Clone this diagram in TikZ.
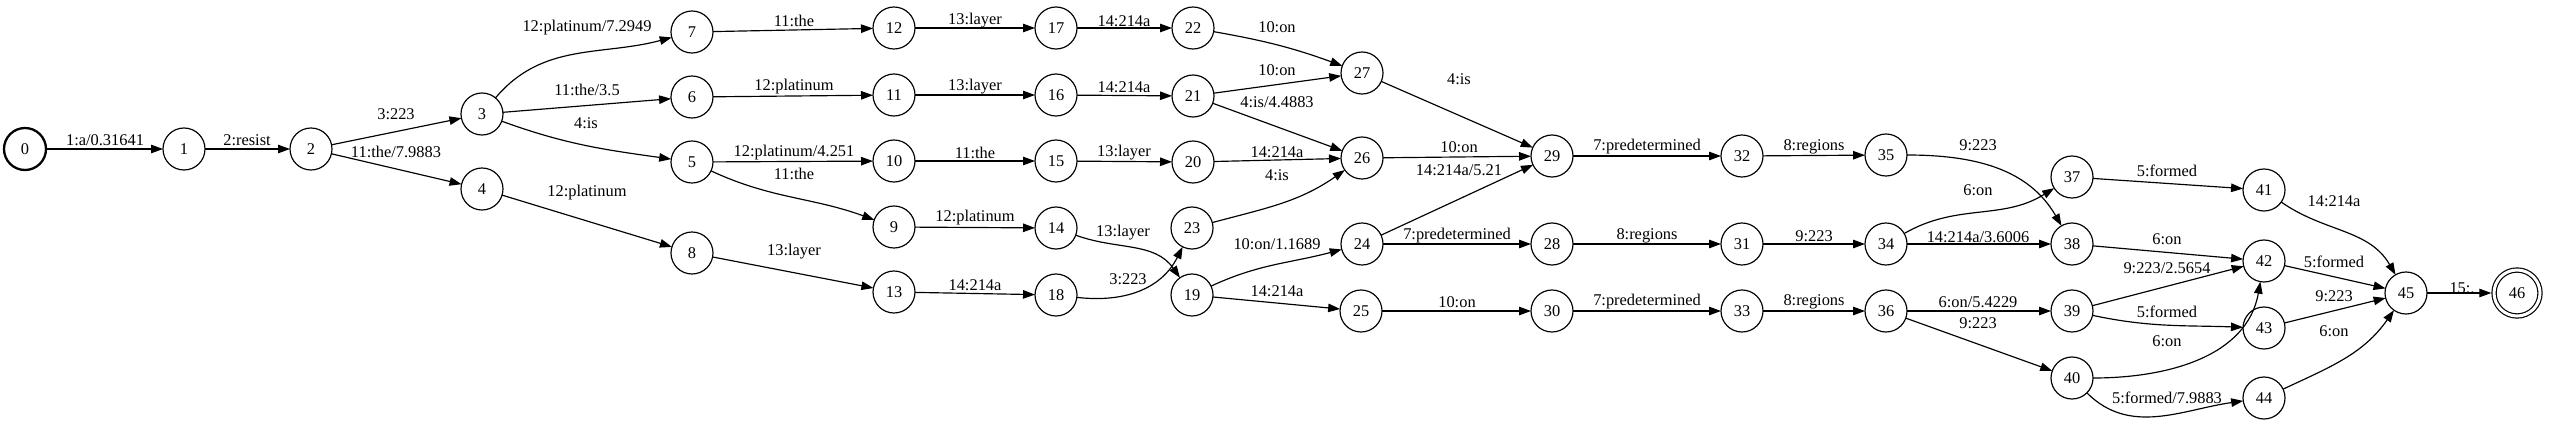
\documentclass[tikz,border=0pt]{standalone}
\usepackage{fontspec}
\setmainfont{Liberation Serif}
\usetikzlibrary{arrows.meta}
\begin{document}
\begin{tikzpicture}[x=1pt,y=1pt,
  st/.style={circle,draw,line width=1.17pt,minimum size=42pt,inner sep=0pt,outer sep=0pt,font=\fontsize{16.4}{19}\selectfont},
  initst/.style={st,line width=2.3pt},
  finst/.style={st,minimum size=46pt,double,double distance=3pt},
  tr/.style={draw,line width=1.17pt,-{Triangle[length=12pt,width=8.5pt]}},
  lbl/.style={inner sep=0pt,font=\fontsize{16.4}{19}\selectfont}]
\useasboundingbox (0,0) rectangle (2550,-426);
% states
\node[initst] (n0) at (25,-149) {0};
\node[st] (n1) at (184,-149) {1};
\node[st] (n2) at (311,-149) {2};
\node[st] (n3) at (482,-114) {3};
\node[st] (n4) at (482,-189) {4};
\node[st] (n7) at (692,-32) {7};
\node[st] (n6) at (692,-97) {6};
\node[st] (n5) at (692,-162) {5};
\node[st] (n8) at (692,-253) {8};
\node[st] (n12) at (894,-28) {12};
\node[st] (n11) at (894,-95) {11};
\node[st] (n10) at (894,-161) {10};
\node[st] (n9) at (894,-227) {9};
\node[st] (n13) at (894,-292) {13};
\node[st] (n17) at (1056,-28) {17};
\node[st] (n16) at (1056,-95) {16};
\node[st] (n15) at (1056,-161) {15};
\node[st] (n14) at (1056,-228) {14};
\node[st] (n18) at (1056,-295) {18};
\node[st] (n22) at (1193,-28) {22};
\node[st] (n21) at (1193,-96) {21};
\node[st] (n20) at (1193,-162) {20};
\node[st] (n23) at (1192,-228) {23};
\node[st] (n19) at (1192,-295) {19};
\node[st] (n27) at (1362,-73) {27};
\node[st] (n26) at (1362,-158) {26};
\node[st] (n24) at (1362,-244) {24};
\node[st] (n25) at (1361,-311) {25};
\node[st] (n29) at (1552,-156) {29};
\node[st] (n28) at (1552,-244) {28};
\node[st] (n30) at (1552,-311) {30};
\node[st] (n32) at (1742,-156) {32};
\node[st] (n31) at (1742,-244) {31};
\node[st] (n33) at (1742,-311) {33};
\node[st] (n35) at (1886,-155) {35};
\node[st] (n34) at (1886,-244) {34};
\node[st] (n36) at (1886,-311) {36};
\node[st] (n37) at (2072,-177) {37};
\node[st] (n38) at (2072,-244) {38};
\node[st] (n39) at (2072,-311) {39};
\node[st] (n40) at (2072,-378) {40};
\node[st] (n41) at (2264,-190) {41};
\node[st] (n42) at (2264,-261) {42};
\node[st] (n43) at (2264,-328) {43};
\node[st] (n44) at (2264,-398) {44};
\node[st] (n45) at (2406,-293) {45};
\node[finst] (n46) at (2517,-293) {46};
% straight transitions
\foreach \a/\b in {0/1,1/2,2/3,2/4,3/6,4/8,7/12,12/17,17/22,6/11,11/16,16/21,5/10,10/15,15/20,9/14,8/13,13/18,21/27,21/26,20/26,19/25,27/29,26/29,24/29,24/28,25/30,29/32,28/31,30/33,32/35,31/34,33/36,34/38,36/39,36/40,37/41,38/42,39/42,42/45,43/45}
  \draw[tr] (n\a) -- (n\b);
\draw[tr,shorten >=2.7pt] (n45) -- (n46);
% curved transitions
\draw[tr] (n3) to[out=50,in=195] (n7);
\draw[tr] (n3) to[out=-20,in=172] (n5);
\draw[tr] (n5) to[out=-25,in=160] (n9);
\draw[tr] (n14) to[out=-20,in=125] (n19);
\draw[tr] (n18) .. controls +(70,-8) and +(-30,-60) .. (n23);
\draw[tr] (n22) to[out=-10,in=160] (n27);
\draw[tr] (n23) to[out=15,in=215] (n26);
\draw[tr] (n19) to[out=25,in=195] (n24);
\draw[tr] (n35) to[out=0,in=120] (n38);
\draw[tr] (n34) to[out=30,in=212] (n37);
\draw[tr] (n39) to[out=-12,in=178] (n43);
\draw[tr] (n40) to[out=0,in=-100] (n42);
\draw[tr] (n40) to[out=-45,in=188] (n44);
\draw[tr] (n41) to[out=-35,in=120] (n45);
\draw[tr] (n44) to[out=25,in=-125] (n45);
% labels
\node[lbl] (l01) at (105,-140) {1:a/0.31641};
\node[lbl] (l12) at (247,-140) {2:resist};
\node[lbl] (l23) at (396,-114) {3:223};
\node[lbl] (l24) at (396,-152) {11:the/7.9883};
\node[lbl] (l37) at (587,-28) {12:platinum/7.2949};
\node[lbl] (l36) at (587,-90) {11:the/3.5};
\node[lbl] (l35) at (586,-123) {4:is};
\node[lbl] (l48) at (587,-193) {12:platinum};
\node[lbl] (l712) at (794,-21) {11:the};
\node[lbl] (l1217) at (975,-21) {13:layer};
\node[lbl] (l1722) at (1124,-21) {14:214a};
\node[lbl] (l611) at (794,-87) {12:platinum};
\node[lbl] (l1116) at (975,-87) {13:layer};
\node[lbl] (l1621) at (1124,-87) {14:214a};
\node[lbl] (l510) at (794,-153) {12:platinum/4.251};
\node[lbl] (l59) at (794,-174) {11:the};
\node[lbl] (l1015) at (975,-153) {11:the};
\node[lbl] (l1520) at (1124,-153) {13:layer};
\node[lbl] (l914) at (975,-218) {12:platinum};
\node[lbl] (l1419) at (1123,-233) {13:layer};
\node[lbl] (l813) at (794,-252) {13:layer};
\node[lbl] (l1318) at (975,-285) {14:214a};
\node[lbl] (l1823) at (1128,-279) {3:223};
\node[lbl] (l2227) at (1277,-27) {10:on};
\node[lbl] (l2127) at (1277,-70) {10:on};
\node[lbl] (l2126) at (1277,-102) {4:is/4.4883};
\node[lbl] (l2026) at (1277,-152) {14:214a};
\node[lbl] (l2326) at (1277,-175) {4:is};
\node[lbl] (l1924) at (1277,-244) {10:on/1.1689};
\node[lbl] (l1925) at (1277,-291) {14:214a};
\node[lbl] (l2729) at (1459,-79) {4:is};
\node[lbl] (l2629) at (1459,-147) {10:on};
\node[lbl] (l2429) at (1459,-170) {14:214a/5.21};
\node[lbl] (l2428) at (1457,-236) {7:predetermined};
\node[lbl] (l2530) at (1457,-302) {10:on};
\node[lbl] (l2932) at (1647,-147) {7:predetermined};
\node[lbl] (l2831) at (1647,-236) {8:regions};
\node[lbl] (l3033) at (1647,-302) {7:predetermined};
\node[lbl] (l3235) at (1814,-147) {8:regions};
\node[lbl] (l3134) at (1814,-236) {9:223};
\node[lbl] (l3336) at (1814,-302) {8:regions};
\node[lbl] (l3538) at (1978,-145) {9:223};
\node[lbl] (l3437) at (1978,-190) {6:on};
\node[lbl] (l3438) at (1978,-237) {14:214a/3.6006};
\node[lbl] (l3639) at (1978,-302) {6:on/5.4229};
\node[lbl] (l3640) at (1978,-323) {9:223};
\node[lbl] (l3741) at (2167,-171) {5:formed};
\node[lbl] (l3842) at (2167,-239) {6:on};
\node[lbl] (l3942) at (2167,-268) {9:223/2.5654};
\node[lbl] (l3943) at (2167,-312) {5:formed};
\node[lbl] (l4042) at (2167,-341) {6:on};
\node[lbl] (l4044) at (2167,-398) {5:formed/7.9883};
\node[lbl] (l4145) at (2334,-201) {14:214a};
\node[lbl] (l4245) at (2334,-262) {5:formed};
\node[lbl] (l4345) at (2334,-296) {9:223};
\node[lbl] (l4445) at (2334,-331) {6:on};
\node[lbl] (l4546) at (2462,-288) {15:.};
\end{tikzpicture}
\end{document}
